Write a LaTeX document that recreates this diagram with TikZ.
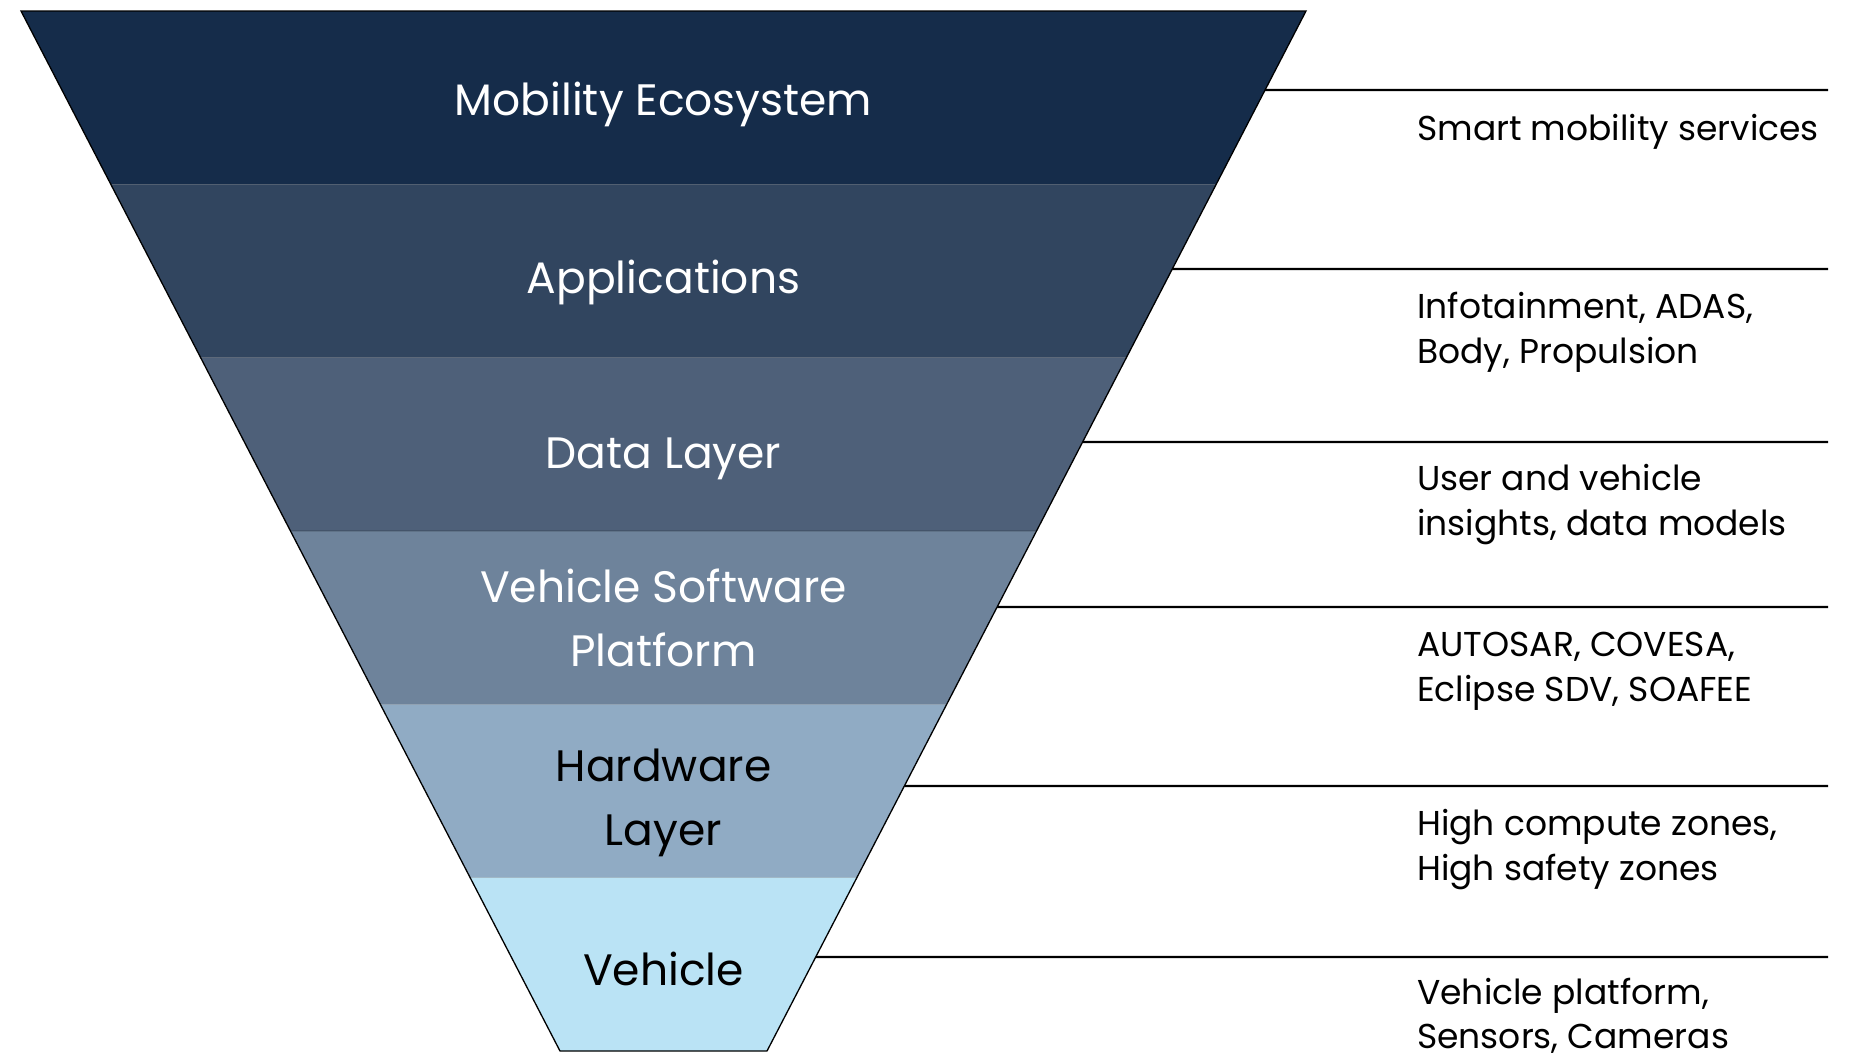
\documentclass[tikz,border=0pt]{standalone}
\usepackage{fontspec}
\setmainfont{Poppins}
\usetikzlibrary{calc}

\definecolor{bandA}{HTML}{152C4A}
\definecolor{bandB}{HTML}{31455F}
\definecolor{bandC}{HTML}{4E6079}
\definecolor{bandD}{HTML}{6E839B}
\definecolor{bandE}{HTML}{90ABC4}
\definecolor{bandF}{HTML}{BAE3F5}

\tikzset{
  layerlbl/.style={anchor=base, inner sep=0pt, font=\fontsize{44}{64}\selectfont},
  desclbl/.style={anchor=base west, inner sep=0pt, text=black, font=\fontsize{34.5}{45}\selectfont},
  outline/.style={draw=black, line width=1.3pt, line join=miter},
  leader/.style={draw=black, line width=2.4pt},
}

\begin{document}
\begin{tikzpicture}[x=1pt, y=-1pt]
  \useasboundingbox (0,0) rectangle (1853,1053);

  % corners of the inverted pyramid
  \coordinate (TL) at (21,11);
  \coordinate (TR) at (1306,11);
  \coordinate (BL) at (560,1051);
  \coordinate (BR) at (767,1051);

  % six stacked bands
  \foreach \c [count=\i from 0] in {bandA,bandB,bandC,bandD,bandE,bandF} {
    \pgfmathsetmacro\a{\i/6}
    \pgfmathsetmacro\b{(\i+1)/6}
    \fill[\c] ($(TL)!\a!(BL)$) -- ($(TR)!\a!(BR)$) -- ($(TR)!\b!(BR)$) -- ($(TL)!\b!(BL)$) -- cycle;
  }
  % faint seams between bands
  \foreach \k in {1,...,5} {
    \draw[black, opacity=0.12, line width=1.2pt] ($(TL)!\k/6!(BL)$) -- ($(TR)!\k/6!(BR)$);
  }
  \draw[outline] (TL) -- (TR) -- (BR) -- (BL) -- cycle;

  % layer names
  \node[layerlbl, text=white] (eco)  at (663.5,115) {Mobility Ecosystem};
  \node[layerlbl, text=white] (apps) at (663.5,293) {Applications};
  \node[layerlbl, text=white] (data) at (663.5,468) {Data Layer};
  \node[layerlbl, text=white] (vsp1) at (663.5,602) {Vehicle Software};
  \node[layerlbl, text=white] (vsp2) at (663.5,666) {Platform};
  \node[layerlbl, text=black] (hw1)  at (663.5,781) {Hardware};
  \node[layerlbl, text=black] (hw2)  at (663.5,845) {Layer};
  \node[layerlbl, text=black] (veh)  at (663.5,985) {Vehicle};

  % leader lines from the right edge
  \foreach \n/\y in {1/90, 2/269, 3/442, 4/607, 5/786, 6/957} {
    \pgfmathsetmacro\t{(\y-11)/1040}
    \coordinate (e\n) at ($(TR)!\t!(BR)$);
    \coordinate (r\n) at (1828,\y);
    \draw[leader] (e\n) -- (r\n);
  }

  % descriptions
  \node[desclbl] (d1)  at (1417,140) {Smart mobility services};
  \node[desclbl] (d2a) at (1417,318) {Infotainment, ADAS,};
  \node[desclbl] (d2b) at (1417,363) {Body, Propulsion};
  \node[desclbl] (d3a) at (1417,490) {User and vehicle};
  \node[desclbl] (d3b) at (1417,535) {insights, data models};
  \node[desclbl] (d4a) at (1417,656) {AUTOSAR, COVESA,};
  \node[desclbl] (d4b) at (1417,701) {Eclipse SDV, SOAFEE};
  \node[desclbl] (d5a) at (1417,835) {High compute zones,};
  \node[desclbl] (d5b) at (1417,880) {High safety zones};
  \node[desclbl] (d6a) at (1417,1004) {Vehicle platform,};
  \node[desclbl] (d6b) at (1417,1048) {Sensors, Cameras};
\end{tikzpicture}
\end{document}
